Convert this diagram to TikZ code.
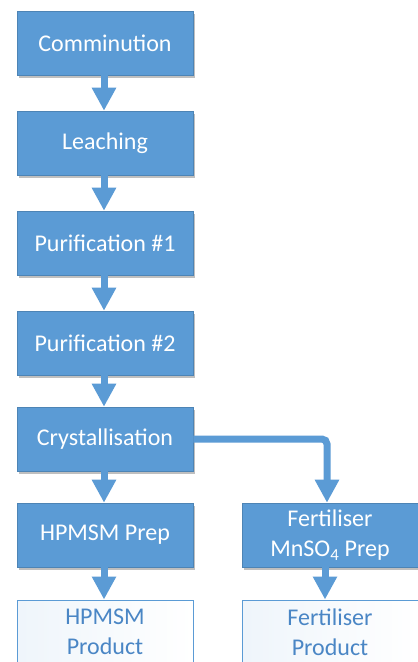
\documentclass[tikz,border=0pt]{standalone}
\usepackage{fontspec}
\setmainfont{Carlito}
\usetikzlibrary{arrows.meta,shadows}
\definecolor{accent}{HTML}{5B9BD5}
\definecolor{prodtext}{HTML}{4A86C5}
\begin{document}
\begin{tikzpicture}[x=1pt,y=-1pt,
  procbox/.style={rectangle, fill=accent, draw=accent!85!black, line width=0.6pt,
    minimum width=176pt, minimum height=64pt, text=white, align=center,
    font=\fontsize{24}{30}\selectfont,
    drop shadow={shadow xshift=2pt, shadow yshift=-2.5pt, fill=black, opacity=0.25}},
  prodbox/.style={rectangle, left color=accent!10, right color=white, draw=accent, line width=1pt,
    minimum width=176pt, minimum height=64pt, text=prodtext, align=center,
    font=\fontsize{24}{30}\selectfont},
  flow/.style={draw=accent, line width=7pt, -{Triangle[width=23pt,length=23pt]}}]
\useasboundingbox (0,0) rectangle (418,662);
\clip (0,0) rectangle (418,662);
\fill[white] (0,0) rectangle (418,662);
\node[procbox] (a) at (105,43) {Comminution};
\node[procbox] (b) at (105,143) {Leaching};
\node[procbox] (c) at (105,243) {Purification \#1};
\node[procbox] (d) at (105,343) {Purification \#2};
\node[procbox] (e) at (105,439) {Crystallisation};
\node[procbox] (f) at (105,535) {HPMSM Prep};
\node[procbox] (g) at (330,535) {Fertiliser\\MnSO\textsubscript{4} Prep};
\node[prodbox] (h) at (105,632) {HPMSM\\Product};
\node[prodbox] (i) at (330,632) {Fertiliser\\Product};
\draw[flow] (a.south -| 104,0) -- (b.north -| 104,0);
\draw[flow] (b.south -| 104,0) -- (c.north -| 104,0);
\draw[flow] (c.south -| 104,0) -- (d.north -| 104,0);
\draw[flow] (d.south -| 104,0) -- (e.north -| 104,0);
\draw[flow] (e.south -| 104,0) -- (f.north -| 104,0);
\draw[flow] (f.south -| 104,0) -- (h.north -| 104,0);
\draw[flow] (g.south -| 325,0) -- (i.north -| 325,0);
\draw[flow, rounded corners=5pt] (e.east) -- (327,439) -- (g.north -| 327,0);
\end{tikzpicture}
\end{document}
